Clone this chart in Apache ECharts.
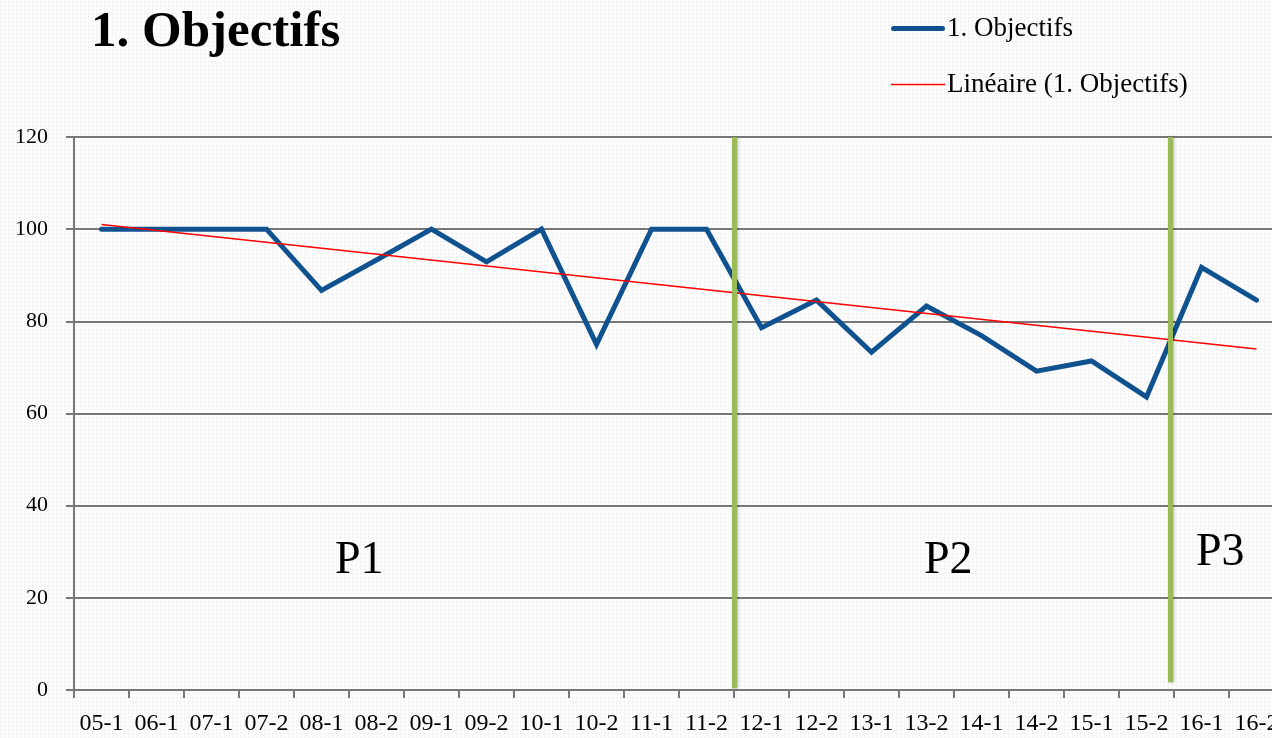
<!DOCTYPE html>
<html>
<head>
<meta charset="utf-8">
<script src="https://cdn.jsdelivr.net/npm/echarts@6/dist/echarts.min.js"></script>
<style>
  html, body { margin: 0; padding: 0; }
  body {
    width: 1272px; height: 738px; overflow: hidden;
    background-color: #fdfdfd;
    background-image:
      repeating-linear-gradient(0deg, rgba(0,0,0,0.025) 0 1px, transparent 1px 4px),
      repeating-linear-gradient(90deg, rgba(0,0,0,0.025) 0 1px, transparent 1px 4px);
  }
  /* le graphique d'origine est coupe a droite : zone plus large que la fenetre */
  #chart { width: 1310px; height: 738px; }
</style>
</head>
<body>
<div id="chart"></div>
<script>
// categories (semestres)
var categories = ['05-1', '06-1', '07-1', '07-2', '08-1', '08-2', '09-1', '09-2', '10-1', '10-2', '11-1',
    '11-2', '12-1', '12-2', '13-1', '13-2', '14-1', '14-2', '15-1', '15-2', '16-1', '16-2'];

// valeurs
var objectifs = [100, 100, 100, 100, 86.7, 93.3, 100, 92.9, 100, 75, 100,
    100, 78.6, 84.6, 73.3, 83.3, 76.9, 69.2, 71.4, 63.6, 91.7, 84.6];

// courbe de tendance : extremites lues
var trendStart = 101;
var trendEnd = 74;

// separations des periodes (position en index de categorie)
var periodBreaks = [
    { x: 11.5, y0: 0.4, y1: 120 },
    { x: 19.43, y0: 1.7, y1: 120 }
];

var yTicks = [0, 20, 40, 60, 80, 100, 120];

var serif = 'Liberation Serif';

// construire la serie tendance (seulement les deux extremites)
var trendData = [];
for (var i = 0; i < categories.length; i++) {
    trendData.push(null);
}
trendData[0] = trendStart;
trendData[categories.length - 1] = trendEnd;

var markLines = [];
for (var j = 0; j < periodBreaks.length; j++) {
    markLines.push([
        { coord: [periodBreaks[j].x, periodBreaks[j].y0] },
        { coord: [periodBreaks[j].x, periodBreaks[j].y1] }
    ]);
}

var chart = echarts.init(document.getElementById('chart'));

var option = {
    animation: false,
    title: {
        text: '1. Objectifs',
        left: 86,
        top: 2,
        textStyle: { fontFamily: serif, fontSize: 51, fontWeight: 'bold', color: '#000' }
    },
    legend: {
        orient: 'vertical',
        left: 891,
        top: 15,
        padding: 0,
        itemWidth: 54,
        itemHeight: 26,
        itemGap: 29,
        symbolKeepAspect: true,
        data: [
            { name: '1. Objectifs', icon: 'path://M2.5,0H51.5A2.5,2.5,0,0,1,51.5,5H2.5A2.5,2.5,0,0,1,2.5,0Z' },
            { name: 'Linéaire (1. Objectifs)', icon: 'path://M0,0H54V1.5H0Z' }
        ],
        textStyle: { fontFamily: serif, fontSize: 27, color: '#000', padding: [0, 0, 0, -3] }
    },
    grid: {
        left: 74,
        width: 1210,
        top: 137,
        bottom: 48,
        containLabel: false
    },
    xAxis: [{
        type: 'category',
        data: categories,
        boundaryGap: true,
        axisLine: { lineStyle: { color: '#777', width: 2 } },
        axisTick: { show: true, length: 8, interval: 0, lineStyle: { color: '#777', width: 2 } },
        axisLabel: { interval: 0, margin: 22, fontFamily: serif, fontSize: 24, color: '#000' }
    }, {
        type: 'value',
        min: -0.5,
        max: 21.5,
        show: false
    }],
    yAxis: {
        type: 'value',
        min: 0,
        max: 120,
        interval: 20,
        axisLine: { show: true, onZero: false, lineStyle: { color: '#777', width: 2 } },
        axisTick: { show: true, length: 8, lineStyle: { color: '#777', width: 2 } },
        axisLabel: { margin: 26, fontFamily: serif, fontSize: 22, color: '#000',
            formatter: function (v) { return yTicks.indexOf(v) >= 0 ? String(v) : ''; } },
        splitLine: { show: true, lineStyle: { color: '#777', width: 2 } }
    },
    series: [{
        name: '1. Objectifs',
        type: 'line',
        data: objectifs,
        symbol: 'none',
        lineStyle: { color: '#10528f', width: 5, cap: 'round', join: 'miter' },
        itemStyle: { color: '#10528f' },
        z: 3
    }, {
        name: 'Linéaire (1. Objectifs)',
        type: 'line',
        data: trendData,
        connectNulls: true,
        symbol: 'none',
        lineStyle: { color: '#ff0000', width: 1.5 },
        itemStyle: { color: '#ff0000' },
        z: 4
    }, {
        name: 'periodes',
        type: 'line',
        xAxisIndex: 1,
        data: [],
        markLine: {
            silent: true,
            symbol: 'none',
            label: { show: false },
            lineStyle: {
                color: '#9bbb59', width: 5, type: 'solid',
                shadowColor: 'rgba(0,0,0,0.3)', shadowBlur: 3, shadowOffsetX: 1
            },
            data: markLines
        },
        z: 5
    }],
    graphic: [
        { type: 'text', left: 335, top: 538, style: { text: 'P1', fontFamily: serif, fontSize: 46, fill: '#000' } },
        { type: 'text', left: 924, top: 538, style: { text: 'P2', fontFamily: serif, fontSize: 46, fill: '#000' } },
        { type: 'text', left: 1196, top: 530, style: { text: 'P3', fontFamily: serif, fontSize: 46, fill: '#000' } }
    ]
};

chart.setOption(option);
</script>
</body>
</html>
